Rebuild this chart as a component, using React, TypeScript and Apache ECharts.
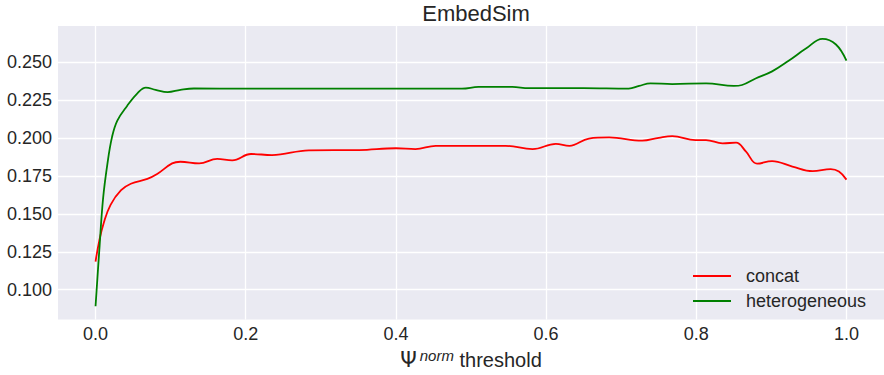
import React, { useEffect, useRef } from "react";
import * as echarts from "echarts";

const concatX = [0, 0.005, 0.011, 0.02, 0.034, 0.047, 0.069, 0.082, 0.102, 0.113, 0.138, 0.162, 0.182, 0.207, 0.235, 0.284, 0.351, 0.4, 0.426, 0.453, 0.484, 0.546, 0.582, 0.613, 0.631, 0.657, 0.684, 0.728, 0.75, 0.768, 0.799, 0.813, 0.835, 0.853, 0.866, 0.881, 0.901, 0.928, 0.955, 0.979, 0.99, 1.0];
const concatY = [0.1186, 0.1324, 0.1442, 0.156, 0.1656, 0.1699, 0.1731, 0.1763, 0.1833, 0.1844, 0.1833, 0.1863, 0.1853, 0.1895, 0.1888, 0.1919, 0.1921, 0.1933, 0.1927, 0.1949, 0.1949, 0.1949, 0.1927, 0.1962, 0.1949, 0.1997, 0.2004, 0.1983, 0.2002, 0.2013, 0.1987, 0.1987, 0.1965, 0.197, 0.1912, 0.1831, 0.1848, 0.1812, 0.1782, 0.1795, 0.1779, 0.1726];

const heteroX = [0, 0.005, 0.01, 0.016, 0.022, 0.029, 0.042, 0.056, 0.067, 0.08, 0.096, 0.113, 0.131, 0.2, 0.3, 0.4, 0.488, 0.51, 0.555, 0.577, 0.65, 0.71, 0.724, 0.739, 0.768, 0.813, 0.85, 0.861, 0.879, 0.901, 0.923, 0.946, 0.968, 0.986, 1.0];
const heteroY = [0.0891, 0.126, 0.16, 0.1837, 0.2008, 0.2115, 0.2212, 0.2297, 0.2333, 0.2318, 0.2303, 0.2318, 0.2327, 0.2326, 0.2326, 0.2326, 0.2326, 0.2337, 0.2337, 0.2329, 0.2329, 0.2326, 0.2344, 0.2361, 0.2356, 0.2361, 0.2344, 0.235, 0.2393, 0.244, 0.251, 0.259, 0.2654, 0.2617, 0.251];

const xTicks = [0, 0.2, 0.4, 0.6, 0.8, 1.0];
const yTicks = [0.1, 0.125, 0.15, 0.175, 0.2, 0.225, 0.25];

const TEXT = "#262626";
const FONT = "Liberation Sans, Arial, sans-serif";

export default function App() {
  const ref = useRef<HTMLDivElement>(null);
  useEffect(() => {
    const chart = echarts.init(ref.current!, null, { renderer: "svg" });
    chart.setOption({
      animation: false,
      textStyle: { fontFamily: FONT, color: TEXT },
      title: {
        text: "EmbedSim",
        left: 471,
        textAlign: "center",
        top: -3,
        textStyle: { fontSize: 22, fontWeight: "normal", color: TEXT, fontFamily: FONT },
      },
      legend: {
        orient: "vertical",
        left: 688,
        top: 262,
        itemWidth: 38,
        itemHeight: 2,
        itemGap: 7,
        icon: "rect",
        textStyle: { fontSize: 18, color: TEXT, fontFamily: FONT, padding: [0, 0, 0, 10] },
        data: ["concat", "heterogeneous"],
      },
      grid: { left: 58, right: -1, top: 26, bottom: 47, backgroundColor: "#EAEAF2", show: true, borderWidth: 0 },
      xAxis: {
        type: "value",
        min: -0.05,
        max: 1.05,
        name: "{psi|Ψ}{sup|norm}{t| threshold}",
        nameLocation: "middle",
        nameGap: 20,
        nameTextStyle: {
          rich: {
            psi: { fontSize: 21, color: TEXT, fontFamily: "DejaVu Sans" },
            sup: { fontSize: 15, fontStyle: "italic", color: TEXT, fontFamily: FONT, verticalAlign: "top", padding: [0, 0, 9, 3] },
            t: { fontSize: 20, color: TEXT, fontFamily: FONT },
          },
        },
        axisLine: { show: false },
        axisTick: { show: false, customValues: xTicks },
        axisLabel: {
          customValues: xTicks,
          fontSize: 18,
          color: TEXT,
          fontFamily: FONT,
          margin: 5,
          formatter: (v: number) => v.toFixed(1),
        },
        splitLine: { show: true, lineStyle: { color: "#FFFFFF", width: 1.3 } },
      },
      yAxis: {
        type: "value",
        min: 0.0803,
        max: 0.2739,
        axisLine: { show: false },
        axisTick: { show: false, customValues: yTicks },
        axisLabel: {
          customValues: yTicks,
          fontSize: 18,
          color: TEXT,
          fontFamily: FONT,
          margin: 6,
          formatter: (v: number) => v.toFixed(3),
        },
        splitLine: { show: true, lineStyle: { color: "#FFFFFF", width: 1.3 } },
      },
      series: [
        {
          name: "concat",
          type: "line",
          data: concatX.map((x, i) => [x, concatY[i]]),
          smooth: 0.4,
          symbol: "none",
          lineStyle: { color: "#FF0000", width: 1.8 },
          itemStyle: { color: "#FF0000" },
        },
        {
          name: "heterogeneous",
          type: "line",
          data: heteroX.map((x, i) => [x, heteroY[i]]),
          smooth: 0.4,
          symbol: "none",
          lineStyle: { color: "#008000", width: 1.8 },
          itemStyle: { color: "#008000" },
        },
      ],
    });
    return () => chart.dispose();
  }, []);
  return <div ref={ref} style={{ width: 884, height: 375, position: "absolute", left: 0, top: 0 }} />;
}
